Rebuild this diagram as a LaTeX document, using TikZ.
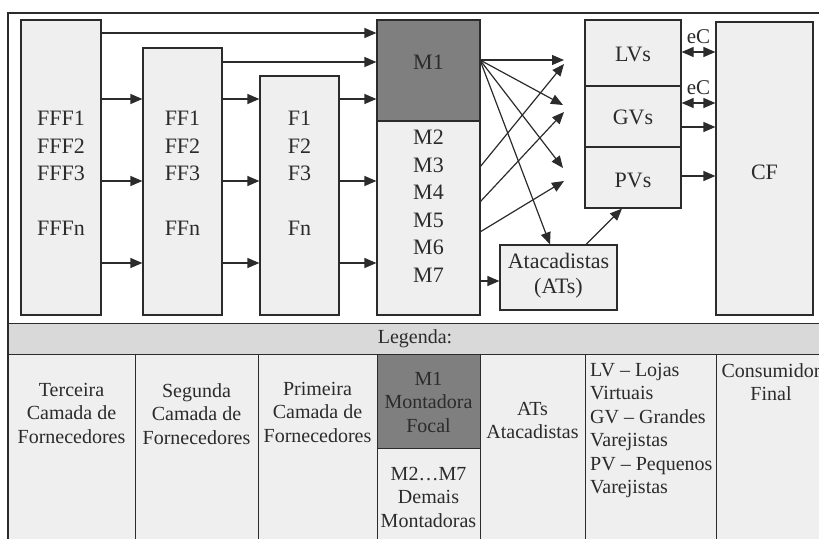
\documentclass[tikz,border=0pt]{standalone}
\usepackage{fontspec}
\setmainfont{Liberation Serif}
\usetikzlibrary{arrows.meta}
\definecolor{ln}{HTML}{2B2B2B}
\definecolor{boxfill}{HTML}{EFEFEF}
\definecolor{dark}{HTML}{7F7F80}
\definecolor{bar}{HTML}{D9D9D9}
\tikzset{bx/.style={draw=ln, fill=boxfill, line width=1.2pt, inner sep=0pt}}
\tikzset{l/.style={font=\fontsize{22}{27.5}\selectfont, text=ln, align=center, inner sep=0pt}}
\tikzset{s/.style={font=\fontsize{20}{23.5}\selectfont, text=ln, align=center, inner sep=0pt}}
\tikzset{ar/.style={-{Triangle[length=12pt,width=10pt]}, line width=1.2pt, draw=ln}}
\tikzset{dar/.style={{Triangle[length=12pt,width=10pt]}-{Triangle[length=12pt,width=10pt]}, line width=1.2pt, draw=ln}}

\begin{document}
\begin{tikzpicture}[x=1pt, y=-1pt]
  \useasboundingbox (0,0) rectangle (819,538);
  \draw[ln, line width=1.5pt] (8,13) rectangle (826,560);

  % fornecedores e montadoras
  \node[bx, minimum width=80, minimum height=295] (fff) at (61,167.5) {};
  \node[bx, minimum width=79, minimum height=267] (ff) at (182.5,181.5) {};
  \node[bx, minimum width=79, minimum height=239] (f) at (299.5,195.5) {};
  \node[bx, fill=dark, minimum width=103, minimum height=101] (m1) at (428.5,70.5) {};
  \node[bx, minimum width=103, minimum height=194] (mo) at (428.5,218) {};
  \node[l, anchor=north] (fffl) at (61,111) {FFF1\\FFF2\\FFF3\\[27.5pt]FFFn};
  \node[l, anchor=north] (ffl) at (182.5,111) {FF1\\FF2\\FF3\\[27.5pt]FFn};
  \node[l, anchor=north] (fl) at (299.5,111) {F1\\F2\\F3\\[27.5pt]Fn};
  \node[l] (m1l) at (428.5,62) {M1};
  \node[l, anchor=north] (mol) at (428.5,130) {M2\\M3\\M4\\M5\\M6\\M7};

  % varejo e consumidor
  \node[bx, minimum width=96, minimum height=66] (lvs) at (633,53) {};
  \node[bx, minimum width=96, minimum height=61] (gvs) at (633,116.5) {};
  \node[bx, minimum width=96, minimum height=61] (pvs) at (633,177.5) {};
  \node[bx, minimum width=97, minimum height=293] (cf) at (764.5,168.5) {};
  \node[bx, minimum width=117, minimum height=65] (at) at (558.5,277.5) {};
  \node[l] (lvsl) at (633,54) {LVs};
  \node[l] (gvsl) at (633,117) {GVs};
  \node[l] (pvsl) at (633,180) {PVs};
  \node[l] (cfl) at (764.5,172) {CF};
  \node[l, anchor=north, font=\fontsize{22}{25}\selectfont] (atl) at (558.5,253) {Atacadistas\\(ATs)};

  % linhas de fluxo
  \coordinate (t1) at (0,33);
  \coordinate (t2) at (0,62);
  \coordinate (r1) at (0,99);
  \coordinate (r2) at (0,181);
  \coordinate (r3) at (0,263);
  \draw[ar] (fff.east |- t1) -- (m1.west |- t1);
  \draw[ar] (ff.east |- t2) -- (m1.west |- t2);
  \foreach \r in {r1,r2,r3}{
    \draw[ar] (fff.east |- \r) -- (ff.west |- \r);
    \draw[ar] (ff.east |- \r) -- (f.west |- \r);
  }
  \draw[ar] (f.east |- r1) -- (m1.west |- r1);
  \draw[ar] (f.east |- r2) -- (mo.west |- r2);
  \draw[ar] (f.east |- r3) -- (mo.west |- r3);

  \coordinate (s0) at (480,60);
  \coordinate (s1) at (480,167);
  \coordinate (s2) at (480,202);
  \coordinate (s3) at (480,232);
  \coordinate (e1) at (564,60);
  \coordinate (e2) at (563,105);
  \coordinate (e3) at (563,168);
  \coordinate (e4) at (564,64);
  \coordinate (e5) at (564,112);
  \coordinate (e6) at (564,181);
  \coordinate (ax) at (550,0);
  \coordinate (bx) at (586,0);
  \coordinate (px) at (622,0);
  \draw[ar] (s0) -- (e1);
  \draw[ar] (s0) -- (e2);
  \draw[ar] (s0) -- (e3);
  \draw[ar] (s0) -- (at.north -| ax);
  \draw[ar] (s1) -- (e4);
  \draw[ar] (s2) -- (e5);
  \draw[ar] (s3) -- (e6);
  \draw[ar] (mo.east |- 0,281) -- (at.west |- 0,281);
  \draw[ar] (at.north -| bx) -- (pvs.south -| px);

  \draw[dar] (lvs.east |- 0,52) -- node[l, above=8pt, font=\fontsize{21}{21}\selectfont] (ec1) {eC} (cf.west |- 0,52);
  \draw[dar] (gvs.east |- 0,103) -- node[l, above=8pt, font=\fontsize{21}{21}\selectfont] (ec2) {eC} (cf.west |- 0,103);
  \draw[ar] (gvs.east |- 0,127) -- (cf.west |- 0,127);
  \draw[ar] (pvs.east |- 0,176) -- (cf.west |- 0,176);

  % legenda
  \node[draw=ln, fill=bar, line width=1.2pt, anchor=north west, minimum width=818, minimum height=31, inner sep=0pt] (lg) at (8,323) {};
  \node[s] (lgl) at (415,339) {Legenda:};
  \node[bx, anchor=north west, minimum width=127, minimum height=210] (c1) at (8,354) {};
  \node[bx, anchor=north west, minimum width=123, minimum height=210] (c2) at (135,354) {};
  \node[bx, anchor=north west, minimum width=119, minimum height=210] (c3) at (258,354) {};
  \node[bx, fill=dark, anchor=north west, minimum width=103, minimum height=94] (c4) at (377,354) {};
  \node[bx, anchor=north west, minimum width=103, minimum height=116] (c5) at (377,448) {};
  \node[bx, anchor=north west, minimum width=105, minimum height=210] (c6) at (480,354) {};
  \node[bx, anchor=north west, minimum width=131, minimum height=210] (c7) at (585,354) {};
  \node[bx, anchor=north west, minimum width=110, minimum height=210] (c8) at (716,354) {};
  \node[s, anchor=north] (c1l) at (71.5,383) {Terceira\\Camada de\\Fornecedores};
  \node[s, anchor=north] (c2l) at (196.5,383) {Segunda\\Camada de\\Fornecedores};
  \node[s, anchor=north] (c3l) at (317.5,382) {Primeira\\Camada de\\Fornecedores};
  \node[s, anchor=north] (c4l) at (428.5,372) {M1\\Montadora\\Focal};
  \node[s, anchor=north] (c5l) at (428.5,467) {M2\ldots M7\\Demais\\Montadoras};
  \node[s, anchor=north] (c6l) at (532.5,402) {ATs\\Atacadistas};
  \node[s, anchor=north west, align=left] (c7l) at (590,363) {LV – Lojas\\Virtuais\\GV – Grandes\\Varejistas\\PV – Pequenos\\Varejistas};
  \node[s, anchor=north] (c8l) at (771,363) {Consumidor\\Final};
\end{tikzpicture}
\end{document}
